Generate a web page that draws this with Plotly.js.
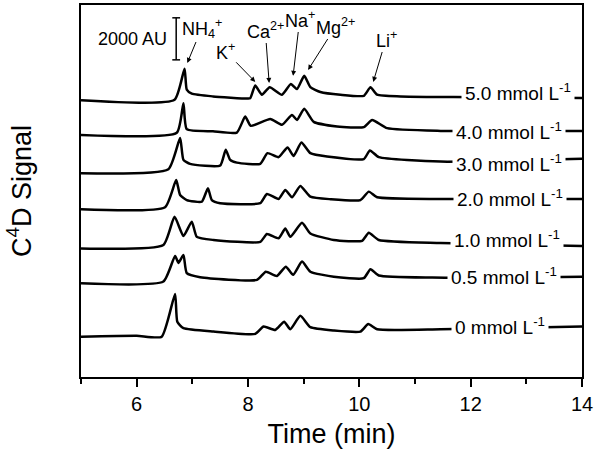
<!DOCTYPE html>
<html><head><meta charset="utf-8">
<script src="https://cdn.plot.ly/plotly-3.0.1.min.js"></script>
<style>html,body{margin:0;padding:0;background:#fff}#chart{width:600px;height:459px}</style>
</head><body><div id="chart"></div>
<script>
// Concentration of added K+ (labels), bottom to top
const concentrations = ['0', '0.5', '1.0', '2.0', '3.0', '4.0', '5.0'];
// Vertical stacking offsets of each electropherogram (AU)
const offsets = [1920, 4460, 6120, 7980, 9700, 11520, 13190];

// Electropherogram vertices (time in min, signal in AU relative to trace baseline)
const time_0 = [5.0, 6.0, 6.45, 6.69, 6.73, 6.84, 7.38, 8.13, 8.28, 8.49, 8.65, 8.76, 8.94, 9.12, 9.54, 10.02, 10.16, 10.32, 11.46, 14.0];
const signal_0 = [0, 40, 0, 2030, 710, 400, 240, 130, 480, 320, 710, 350, 990, 450, 290, 240, 600, 350, 350, 480];

const time_05 = [5.0, 6.48, 6.69, 6.75, 6.84, 6.90, 7.14, 8.16, 8.32, 8.52, 8.68, 8.81, 8.97, 9.12, 9.54, 10.08, 10.20, 10.35, 11.31, 14.0];
const signal_05 = [0, 80, 1300, 970, 1350, 480, 290, 160, 550, 350, 790, 400, 1030, 550, 310, 240, 670, 370, 270, 310];

const time_1 = [5.0, 6.48, 6.68, 6.84, 6.99, 7.08, 7.38, 8.22, 8.34, 8.55, 8.67, 8.76, 8.97, 9.12, 9.54, 10.05, 10.17, 10.35, 11.46, 14.0];
const signal_1 = [0, 160, 1500, 590, 1270, 550, 400, 310, 680, 480, 950, 550, 1220, 710, 400, 360, 740, 400, 250, 110];

const time_2 = [5.0, 6.51, 6.71, 6.78, 6.90, 7.17, 7.28, 7.35, 7.50, 8.22, 8.34, 8.55, 8.67, 8.79, 8.94, 9.12, 9.48, 10.02, 10.17, 10.32, 11.46, 14.0];
const signal_2 = [0, 100, 1390, 680, 440, 360, 1000, 440, 290, 290, 730, 490, 920, 570, 1110, 600, 480, 440, 840, 570, 490, 490];

const time_3 = [5.0, 6.57, 6.78, 6.84, 6.96, 7.50, 7.60, 7.68, 7.80, 8.22, 8.35, 8.55, 8.71, 8.82, 8.96, 9.12, 9.42, 10.08, 10.19, 10.35, 11.46, 14.0];
const signal_3 = [0, 190, 1670, 630, 440, 360, 1110, 630, 500, 440, 950, 760, 1220, 820, 1460, 950, 790, 670, 1080, 760, 550, 680];

const time_4 = [5.0, 6.72, 6.84, 6.90, 7.37, 7.80, 7.95, 8.05, 8.40, 8.61, 8.79, 8.88, 9.01, 9.18, 9.60, 10.08, 10.23, 10.50, 11.46, 14.0];
const signal_4 = [0, 100, 1510, 270, 170, 110, 870, 430, 760, 480, 950, 710, 1240, 620, 400, 370, 710, 320, 190, 190];

const time_5 = [5.0, 6.68, 6.86, 6.90, 6.99, 7.37, 7.98, 8.04, 8.13, 8.25, 8.39, 8.61, 8.77, 8.88, 9.01, 9.12, 9.30, 9.66, 10.08, 10.20, 10.32, 10.74, 11.69, 14.0];
const signal_5 = [-20, 0, 1480, 480, 290, 160, 60, 70, 680, 240, 600, 240, 750, 510, 1140, 600, 370, 240, 190, 600, 240, 160, 130, 80];

// Ion labels
const ionLabels = ['NH<sub>4</sub><sup>+</sup>', 'K<sup>+</sup>', 'Ca<sup>2+</sup>', 'Na<sup>+</sup>', 'Mg<sup>2+</sup>', 'Li<sup>+</sup>'];
const scaleBarAU = 2000;

const times = [time_0, time_05, time_1, time_2, time_3, time_4, time_5];
const signals = [signal_0, signal_05, signal_1, signal_2, signal_3, signal_4, signal_5];

const FONT = 'Liberation Sans, Arial, Helvetica, sans-serif';

const traces = concentrations.map((c, i) => ({
  type: 'scatter', mode: 'lines',
  x: times[i],
  y: signals[i].map(v => v + offsets[i]),
  line: {color: '#000', width: 2.5, shape: 'spline', smoothing: 0.5},
  showlegend: false, hoverinfo: 'skip', name: c + ' mmol/L'
}));

// layout positions (t in min, y in AU)
const concLabelPos = [[11.65, 2404], [11.58, 4784], [11.62, 6569], [11.69, 8497], [11.67, 10163], [11.67, 11686], [11.83, 13542]];
// [text centre t, text centre AU, arrow head t, arrow head AU]
const ionArrows = [
  [7.17, 16605, 6.91, 14946],
  [7.59, 15511, 8.13, 14042],
  [8.31, 16510, 8.38, 13994],
  [8.93, 17034, 8.81, 14328],
  [9.58, 16701, 9.08, 14613],
  [10.48, 16082, 10.25, 14042]
];

const annotations = [];
concentrations.forEach((c, i) => {
  annotations.push({
    x: concLabelPos[i][0], y: concLabelPos[i][1], xref: 'x', yref: 'y',
    xanchor: 'left', yanchor: 'middle', showarrow: false,
    text: c + ' mmol L<sup>-1</sup>',
    font: {family: FONT, size: 19, color: '#000'},
    bgcolor: '#fff', borderpad: 3
  });
});
ionLabels.forEach((t, i) => {
  const a = ionArrows[i];
  annotations.push({
    x: a[2], y: a[3], ax: a[0], ay: a[1], xref: 'x', yref: 'y', axref: 'x', ayref: 'y',
    text: t, font: {family: FONT, size: 18, color: '#000'},
    showarrow: true, arrowhead: 2, arrowsize: 1, arrowwidth: 1, arrowcolor: '#000', standoff: 0, startstandoff: 0
  });
});
const barX = 6.71, barY0 = 15090;
annotations.push({
  x: 5.92, y: barY0 + scaleBarAU / 2, xref: 'x', yref: 'y', xanchor: 'center', yanchor: 'middle',
  showarrow: false, text: scaleBarAU + ' AU', font: {family: FONT, size: 18, color: '#000'}
});

const shapes = [
  {type: 'line', xref: 'x', yref: 'y', x0: barX, x1: barX, y0: barY0, y1: barY0 + scaleBarAU, line: {color: '#000', width: 1.5}},
  {type: 'line', xref: 'x', yref: 'y', x0: barX - 0.07, x1: barX + 0.07, y0: barY0, y1: barY0, line: {color: '#000', width: 1.5}},
  {type: 'line', xref: 'x', yref: 'y', x0: barX - 0.07, x1: barX + 0.07, y0: barY0 + scaleBarAU, y1: barY0 + scaleBarAU, line: {color: '#000', width: 1.5}}
];

const layout = {
  width: 600, height: 459,
  margin: {l: 81, r: 18, t: 5, b: 82},
  paper_bgcolor: '#fff', plot_bgcolor: '#fff',
  font: {family: FONT, color: '#000'},
  xaxis: {
    range: [5, 14], tick0: 0, dtick: 2, ticks: 'outside', ticklen: 8, tickwidth: 2, tickcolor: '#000',
    showline: true, linewidth: 2, linecolor: '#000', mirror: true,
    showgrid: false, zeroline: false,
    tickfont: {family: FONT, size: 20, color: '#000'},
    minor: {dtick: 1, tick0: 0, ticks: 'outside', ticklen: 5, tickwidth: 2, tickcolor: '#000', showgrid: false},
    title: {text: 'Time (min)', font: {family: FONT, size: 27, color: '#000'}, standoff: 10},
    automargin: false, fixedrange: true
  },
  yaxis: {
    range: [0, 17700], showticklabels: false, ticks: '',
    showline: true, linewidth: 2, linecolor: '#000', mirror: true,
    showgrid: false, zeroline: false,
    title: {text: 'C<sup>4</sup>D Signal', font: {family: FONT, size: 27, color: '#000'}, standoff: 40},
    automargin: false, fixedrange: true
  },
  annotations: annotations,
  shapes: shapes
};

Plotly.newPlot('chart', traces, layout, {staticPlot: true, displayModeBar: false});
</script>
</body></html>
